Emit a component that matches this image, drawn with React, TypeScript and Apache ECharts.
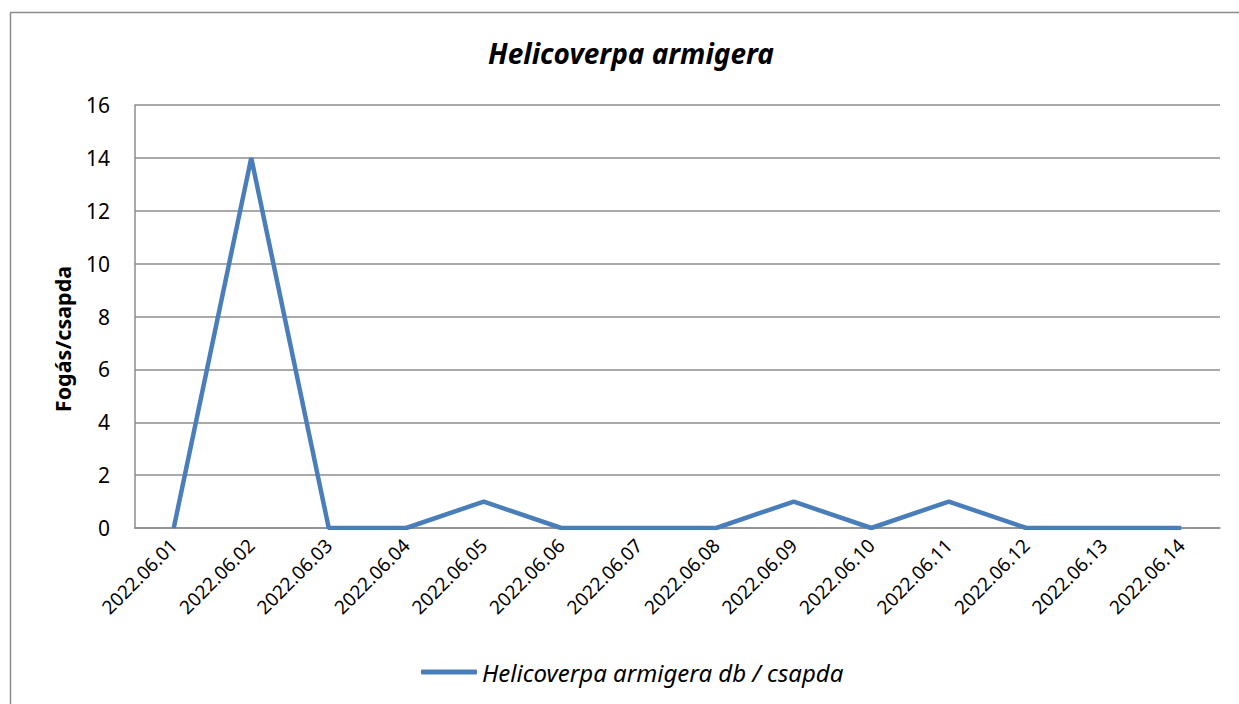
import React, { useEffect, useRef } from "react";
import * as echarts from "echarts";

const categories = [
  "2022.06.01", "2022.06.02", "2022.06.03", "2022.06.04", "2022.06.05",
  "2022.06.06", "2022.06.07", "2022.06.08", "2022.06.09", "2022.06.10",
  "2022.06.11", "2022.06.12", "2022.06.13", "2022.06.14",
];
const values = [0, 14, 0, 0, 1, 0, 0, 0, 1, 0, 1, 0, 0, 0];
const seriesName = "Helicoverpa armigera db / csapda";
const titleText = "Helicoverpa armigera";
const yAxisTitle = "Fogás/csapda";

const FONT = "'Noto Sans', 'Open Sans', sans-serif";
const LINE_COLOR = "#4A7EBB";

export default function App() {
  const ref = useRef<HTMLDivElement>(null);
  useEffect(() => {
    if (!ref.current) return;
    const chart = echarts.init(ref.current, null, { renderer: "svg" });
    chart.setOption({
      animation: false,
      backgroundColor: "#ffffff",
      title: {
        text: titleText,
        left: 626,
        top: 34,
        textAlign: "center",
        textStyle: {
          fontFamily: FONT,
          fontSize: 28,
          fontWeight: "bold",
          fontStyle: "italic",
          color: "#000",
        },
      },
      graphic: [
        {
          type: "rect",
          shape: { x: 10.5, y: 12.5, width: 1300, height: 800 },
          style: { fill: "none", stroke: "#8c8c8c", lineWidth: 1.5 },
          silent: true,
          z: -1,
        },
        {
          type: "text",
          x: 62,
          y: 339,
          rotation: Math.PI / 2,
          style: {
            text: yAxisTitle,
            fontFamily: FONT,
            fontSize: 21.5,
            fontWeight: "bold",
            fill: "#000",
            align: "center",
            verticalAlign: "middle",
          },
        },
      ],
      legend: {
        data: [seriesName],
        left: 416,
        top: 655,
        icon: "roundRect",
        itemWidth: 56,
        itemHeight: 5,
        itemGap: 4,
        textStyle: {
          fontFamily: FONT,
          fontSize: 24,
          fontStyle: "italic",
          color: "#000",
        },
      },
      grid: { left: 135, right: 19, top: 105, bottom: 176, containLabel: false },
      xAxis: {
        type: "category",
        data: categories,
        boundaryGap: true,
        axisLine: { lineStyle: { color: "#8c8c8c", width: 1.5 } },
        axisTick: { show: false },
        axisLabel: {
          rotate: 45,
          margin: 14,
          fontFamily: FONT,
          fontSize: 19,
          color: "#000",
          interval: 0,
        },
      },
      yAxis: {
        type: "value",
        min: 0,
        max: 16,
        interval: 2,
        axisLine: { show: true, lineStyle: { color: "#8c8c8c", width: 1.5 } },
        axisTick: { show: false },
        splitLine: { lineStyle: { color: "#8c8c8c", width: 1.5 } },
        axisLabel: {
          margin: 25,
          fontFamily: FONT,
          fontSize: 21,
          color: "#000",
        },
      },
      series: [
        {
          name: seriesName,
          type: "line",
          data: values,
          symbol: "none",
          lineStyle: { color: LINE_COLOR, width: 4.5 },
          itemStyle: { color: LINE_COLOR },
        },
      ],
    });
    return () => chart.dispose();
  }, []);
  return (
    <div
      ref={ref}
      style={{ position: "absolute", left: 0, top: 0, width: 1239, height: 704 }}
    />
  );
}
